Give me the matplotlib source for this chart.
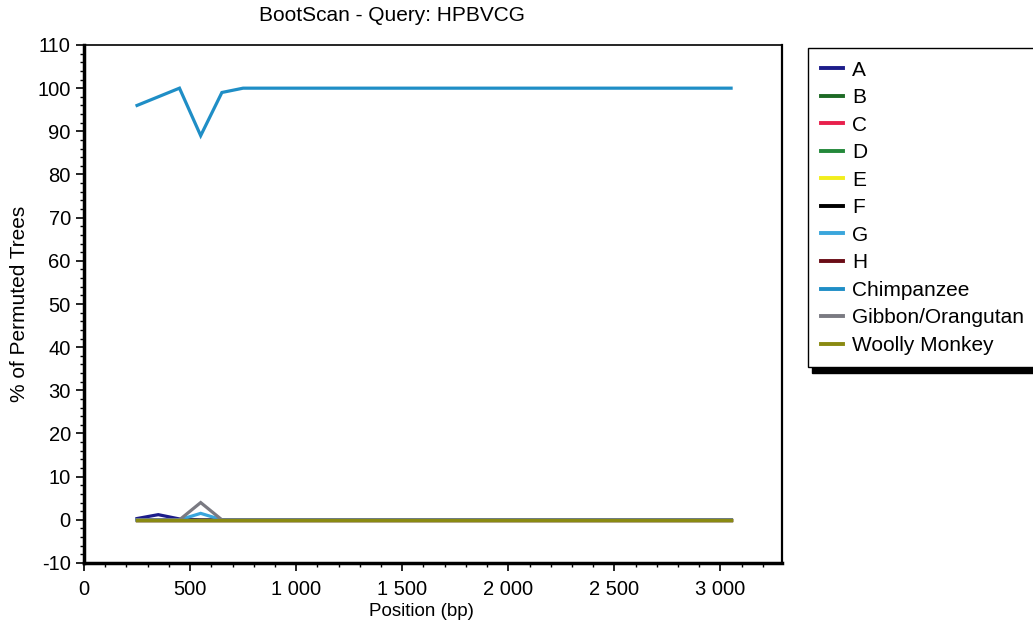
import matplotlib
matplotlib.use("Agg")
import matplotlib.pyplot as plt
from matplotlib.ticker import MultipleLocator, FuncFormatter

plt.rcParams['font.family'] = ['Liberation Sans', 'DejaVu Sans']

positions = [250, 350, 450, 550, 650, 750, 850, 950, 1050, 1150, 1250, 1350, 1450,
             1550, 1650, 1750, 1850, 1950, 2050, 2150, 2250, 2350, 2450, 2550,
             2650, 2750, 2850, 2950, 3050]

zeros = [0] * 29
A = [0.3, 1.2, 0.2] + [0] * 26
B = list(zeros)
C = list(zeros)
D = list(zeros)
E = list(zeros)
F = list(zeros)
G = [0, 0, 0, 1.5] + [0] * 25
H = list(zeros)
chimpanzee = [96, 98, 100, 89, 99] + [100] * 24
gibbon = [0, 0, 0, 4] + [0] * 25
woolly = list(zeros)

names = ['A', 'B', 'C', 'D', 'E', 'F', 'G', 'H', 'Chimpanzee',
         'Gibbon/Orangutan', 'Woolly Monkey']
series = [A, B, C, D, E, F, G, H, chimpanzee, gibbon, woolly]
colors = ['#1c1c8a', '#1d6a25', '#e8204c', '#23883a', '#f2ee1c', '#000000',
          '#3aa6dc', '#6a0c16', '#1f8ec6', '#7a7a82', '#8a8a12']

fig = plt.figure(figsize=(10.33, 6.31), dpi=100)
ax = fig.add_axes([84/1033, 1-563/631, (782-84)/1033, (563-45)/631])

for name, ys, c in zip(names, series, colors):
    ax.plot(positions, ys, color=c, lw=2.3, label=name, solid_joinstyle='miter')

ax.set_xlim(0, 3290)
ax.set_ylim(-10, 110)
ax.xaxis.set_major_locator(MultipleLocator(500))
ax.xaxis.set_minor_locator(MultipleLocator(100))
ax.yaxis.set_major_locator(MultipleLocator(10))
ax.yaxis.set_minor_locator(MultipleLocator(2))
ax.xaxis.set_major_formatter(FuncFormatter(lambda v, p: f"{int(v):,}".replace(',', ' ')))
ax.yaxis.set_major_formatter(FuncFormatter(lambda v, p: f"{int(round(v))}"))
ax.tick_params(which='major', length=6, width=1.2, labelsize=14.5, direction='out')
ax.tick_params(axis='x', which='major', pad=6)
ax.tick_params(which='minor', length=3, width=1.0, direction='out')

ax.spines['left'].set_linewidth(2.5)
ax.spines['bottom'].set_linewidth(2.5)
ax.spines['top'].set_linewidth(1.2)
ax.spines['right'].set_linewidth(1.6)

ax.set_title('BootScan - Query: HPBVCG', fontsize=15, pad=17, x=(392-84)/698)
ax.set_xlabel('Position (bp)', fontsize=13.5)
ax.xaxis.set_label_coords((421-84)/698, -0.078)
ax.set_ylabel('% of Permuted Trees', fontsize=15, labelpad=6)

leg = fig.legend(loc='upper left', bbox_to_anchor=(808/1033, 1-48/631),
                 fontsize=15, frameon=True, fancybox=False, handlelength=1.1,
                 handletextpad=0.4, labelspacing=0.41, borderpad=0.6,
                 borderaxespad=0.0,
                 shadow={'color': 'black', 'alpha': 1.0, 'ox': 3, 'oy': -4})
leg.get_frame().set_edgecolor('black')
leg.get_frame().set_linewidth(1.0)
for line in leg.get_lines():
    line.set_linewidth(2.8)

fig.savefig('out.png', dpi=100)
